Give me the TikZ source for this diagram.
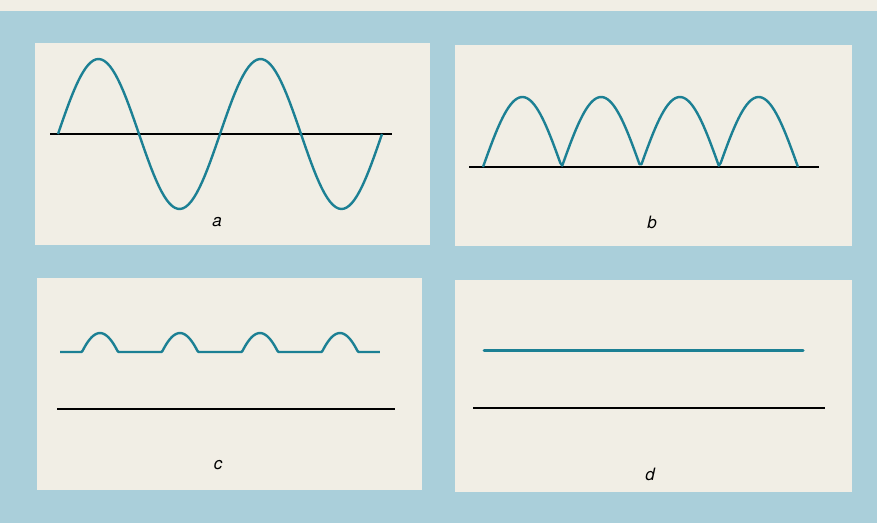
\documentclass[tikz,border=0pt]{standalone}
\usepackage{fontspec}
\usepackage{tikz}
\usepackage{xcolor}
\newfontfamily\tagfont{TeX Gyre Heros}
\definecolor{bgblue}{RGB}{170,207,218}
\definecolor{paper}{RGB}{241,238,229}
\definecolor{wavecol}{RGB}{28,128,148}

\begin{document}
\begin{tikzpicture}[x=1pt, y=-1pt,
    panel/.style={fill=paper},
    wave/.style={wavecol, line width=2.4pt, line join=round},
    axis/.style={black, line width=1.1pt},
    tag/.style={font=\tagfont\itshape\fontsize{17}{20}\selectfont, inner sep=0pt}]
\useasboundingbox (0,0) rectangle (877,523);
\fill[bgblue] (0,0) rectangle (877,523);
\fill[paper] (0,0) rectangle (877,11);
% the four panels
\fill[panel] (35,43) rectangle (430,245);
\fill[panel] (455,45) rectangle (852,246);
\fill[panel] (37,278) rectangle (422,490);
\fill[panel] (455,280) rectangle (852,492);
% a
\draw[axis] (50,134) -- (392,134);
\draw[wave] plot[domain=0:720, samples=120] ({58+\x*0.45}, {134-75*sin(\x)});
\node[tag] (taga) at (217,222) {a};
% b
\draw[axis] (469,167) -- (819,167);
\draw[wave] plot[domain=0:720, samples=160] ({483+\x*0.4375}, {167-70*abs(sin(\x))});
\node[tag] (tagb) at (652,222) {b};
% c
\draw[wave] plot[domain=0:720, samples=241] ({60+\x*0.4444}, {352-79*max(0,abs(sin(\x))-0.76)});
\draw[axis] (57,409) -- (395,409);
\node[tag] (tagc) at (218,465) {c};
% d
\draw[wave, line width=3pt, line cap=round] (484,350) -- (803,350);
\draw[axis] (473,408) -- (825,408);
\node[tag] (tagd) at (650,474) {d};
\end{tikzpicture}
\end{document}
